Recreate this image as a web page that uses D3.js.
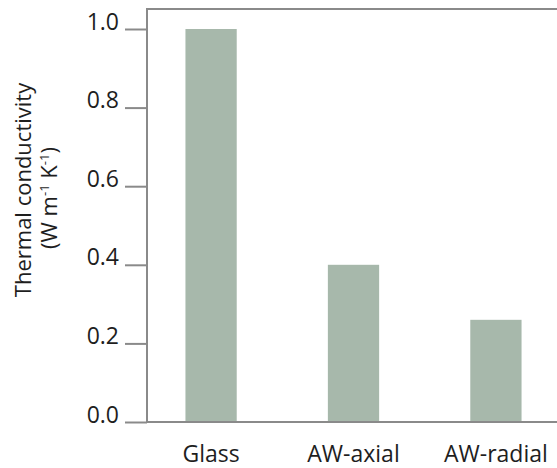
<!DOCTYPE html>
<html>
<head>
<meta charset="utf-8">
<script src="https://cdn.jsdelivr.net/npm/d3@7"></script>
<style>
  html, body { margin: 0; padding: 0; background: #fff; }
  svg { display: block; }
  text { font-family: "Open Sans", "Noto Sans", sans-serif; font-weight: 400; fill: #1e1e1e; }
</style>
</head>
<body>
<svg id="chart" width="557" height="468"></svg>
<script>
const categories = ["Glass", "AW-axial", "AW-radial"];
const values = [1.0, 0.40, 0.26];
const yTicks = [0.0, 0.2, 0.4, 0.6, 0.8, 1.0];

const svg = d3.select("#chart");
const axisColor = "#8a8a8a";
const barColor = "#a7b8ab";
const fs = "23px";

const x = d3.scaleBand().domain(categories).range([147, 560]).paddingInner(0.64).paddingOuter(0.27);
const y = d3.scaleLinear().domain([0, 1]).range([422, 29]);

// bars
svg.selectAll("rect.bar").data(categories).enter().append("rect")
  .attr("class", "bar")
  .attr("x", d => x(d))
  .attr("width", x.bandwidth())
  .attr("y", (d, i) => y(values[i]))
  .attr("height", (d, i) => y(0) - y(values[i]))
  .attr("fill", barColor);

// frame: left and top lines
svg.append("line").attr("x1", 147).attr("x2", 147).attr("y1", 9).attr("y2", 423)
  .attr("stroke", axisColor).attr("stroke-width", 2);
svg.append("line").attr("x1", 146).attr("x2", 557).attr("y1", 9).attr("y2", 9)
  .attr("stroke", axisColor).attr("stroke-width", 2);

// y axis
const yAxis = d3.axisLeft(y).tickValues(yTicks).tickFormat(d3.format(".1f")).tickSize(22).tickPadding(6);
const gy = svg.append("g").attr("transform", "translate(147,0)").call(yAxis);
gy.select(".domain").remove();
gy.selectAll(".tick line").attr("stroke", axisColor).attr("stroke-width", 2);
gy.selectAll(".tick text").style("font-size", fs).attr("fill", "#1e1e1e").attr("dy", "0em");

// x axis baseline
svg.append("line").attr("x1", 146).attr("x2", 557).attr("y1", y(0)).attr("y2", y(0))
  .attr("stroke", axisColor).attr("stroke-width", 2);

const xAxis = d3.axisBottom(x).tickSize(0).tickPadding(24);
const gx = svg.append("g").attr("transform", `translate(0,${y(0)})`).call(xAxis);
gx.select(".domain").remove();
gx.selectAll(".tick text").style("font-size", fs).attr("fill", "#1e1e1e");

// y title
const t1 = svg.append("text")
  .attr("transform", "translate(31,190) rotate(-90)")
  .attr("text-anchor", "middle")
  .style("font-size", "22px")
  .text("Thermal conductivity");
const t2 = svg.append("text")
  .attr("transform", "translate(57,198) rotate(-90)")
  .attr("text-anchor", "middle")
  .style("font-size", "22px");
t2.append("tspan").text("(W m");
t2.append("tspan").attr("dy", -8).style("font-size", "13px").text("-1");
t2.append("tspan").attr("dy", 8).text(" K");
t2.append("tspan").attr("dy", -8).style("font-size", "13px").text("-1");
t2.append("tspan").attr("dy", 8).text(")");

svg.selectAll("g").attr("font-family", null);
</script>
</body>
</html>
